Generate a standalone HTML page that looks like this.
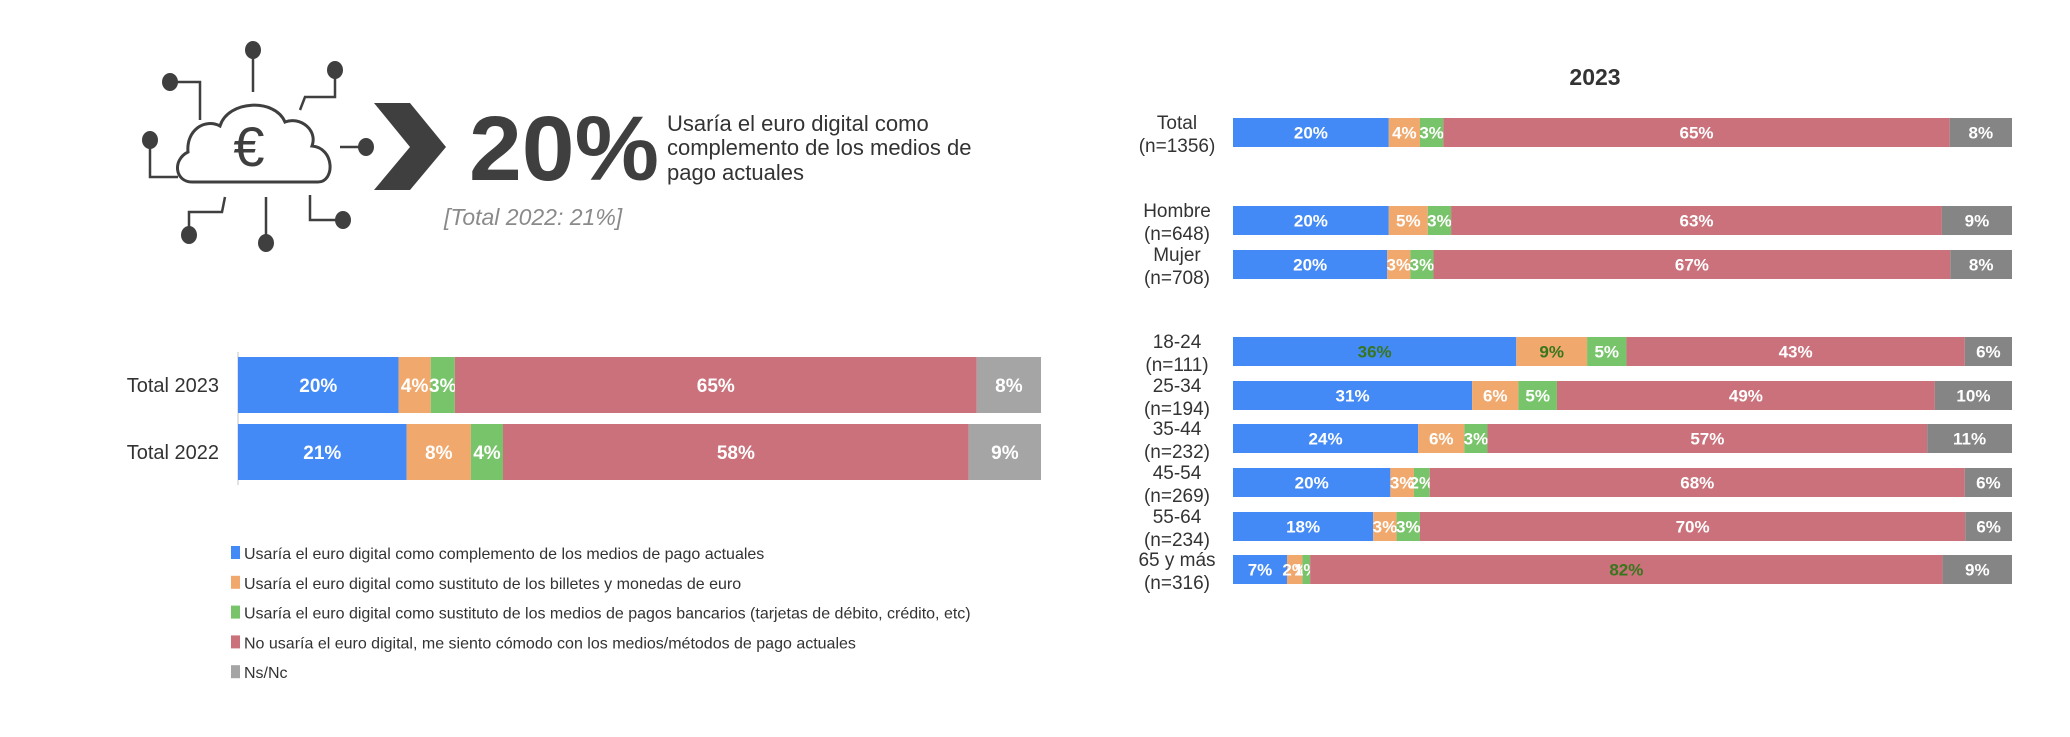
<!DOCTYPE html>
<html><head><meta charset="utf-8"><style>
body{margin:0;background:#fff;width:2070px;height:732px;overflow:hidden;font-family:"Liberation Sans",sans-serif}
svg text{font-family:"Liberation Sans",sans-serif}
</style></head><body>
<svg id="s" width="2070" height="732" viewBox="0 0 2070 732" xmlns="http://www.w3.org/2000/svg">
<g stroke="#3f3f3f" stroke-width="2.5" fill="none">
  <path d="M192,182 C175,182 172,160 188,152 C186,130 205,118 220,126 C228,100 275,98 285,122 C300,116 318,130 312,146 C335,148 335,182 318,182 Z" stroke-width="3"/>
  <line x1="253" y1="58" x2="253" y2="92"/>
  <polyline points="335,78 335,97 305,97 300,110"/>
  <polyline points="170,82 200,82 200,120"/>
  <polyline points="150,140 150,177 178,177"/>
  <line x1="340" y1="147" x2="360" y2="147"/>
  <polyline points="189,230 189,212 222,212 225,197"/>
  <line x1="266" y1="238" x2="266" y2="197"/>
  <polyline points="336,220 310,220 310,195"/>
</g>
<g fill="#3f3f3f">
  <ellipse cx="253" cy="50" rx="8" ry="9"/><ellipse cx="335" cy="70" rx="8" ry="9"/>
  <ellipse cx="170" cy="82" rx="8" ry="9"/><ellipse cx="150" cy="140" rx="8" ry="9"/>
  <ellipse cx="366" cy="147" rx="8" ry="9"/><ellipse cx="189" cy="235" rx="8" ry="9"/>
  <ellipse cx="266" cy="243" rx="8" ry="9"/><ellipse cx="343" cy="220" rx="8" ry="9"/>
</g>
<text x="249" y="166" font-size="56" fill="#3f3f3f" text-anchor="middle">€</text>
<polygon points="374,103 410,103 446,147 410,190 374,190 410,147" fill="#3f3f3f"/>
<text x="469" y="180" font-size="92" font-weight="bold" fill="#3f3f3f" textLength="190" lengthAdjust="spacingAndGlyphs">20%</text>
<g font-size="22" fill="#333">
  <text x="667" y="131">Usaría el euro digital como</text>
  <text x="667" y="155">complemento de los medios de</text>
  <text x="667" y="180">pago actuales</text>
</g>
<text x="444" y="225" font-size="23" font-style="italic" fill="#8a8a8a">[Total 2022: 21%]</text>

<line x1="238" y1="352" x2="238" y2="485" stroke="#d9d9d9" stroke-width="1.5"/>
<text x="1595" y="85" font-size="23" font-weight="bold" fill="#333" text-anchor="middle">2023</text>
<g id="left"></g>
<g id="right"></g>
<g id="legend"></g>
</svg>
<script>
const colors=["#448AF7","#F1A86D","#78C46A","#CA717B","#A5A5A5"];
const legendLabels=["Usaría el euro digital como complemento de los medios de pago actuales","Usaría el euro digital como sustituto de los billetes y monedas de euro","Usaría el euro digital como sustituto de los medios de pagos bancarios (tarjetas de débito, crédito, etc)","No usaría el euro digital, me siento cómodo con los medios/métodos de pago actuales","Ns/Nc"];
const leftCats=["Total 2023","Total 2022"];
const leftVals=[[20,4,3,65,8],[21,8,4,58,9]];
const rightCats=[["Total","(n=1356)"],["Hombre","(n=648)"],["Mujer","(n=708)"],["18-24","(n=111)"],["25-34","(n=194)"],["35-44","(n=232)"],["45-54","(n=269)"],["55-64","(n=234)"],["65 y más","(n=316)"]];
const rightVals=[[20,4,3,65,8],[20,5,3,63,9],[20,3,3,67,8],[36,9,5,43,6],[31,6,5,49,10],[24,6,3,57,11],[20,3,2,68,6],[18,3,3,70,6],[7,2,1,82,9]];
const darkLabels=[[],[],[],[0,1],[],[],[],[],[3]];
const NS="http://www.w3.org/2000/svg";
function mk(t,a,p){const e=document.createElementNS(NS,t);for(const k in a)e.setAttribute(k,a[k]);p.appendChild(e);return e;}
function drawBar(g,vals,x0,x1,y,h,fs,grayCol,dark){
  const tot=vals.reduce((a,b)=>a+b,0);const sc=v=>(x1-x0)*v/tot;
  let x=x0;
  vals.forEach((v,i)=>{
    const w=sc(v);
    const r=mk('rect',{x:x,y:y,width:w,height:h,fill:i==4?grayCol:colors[i]},g);
    
    
    const t=mk('text',{x:x+w/2,y:y+h/2+fs*0.36,'font-size':fs,'font-weight':'bold','text-anchor':'middle',fill:(dark||[]).includes(i)?'#38761D':'#fff'},g);
    t.textContent=v+'%';
    
    
    x+=w;
  });
}
const L=document.getElementById('left');
const leftTops=[357,424];
leftCats.forEach((c,i)=>{
  const t=mk('text',{x:219,y:leftTops[i]+35,'font-size':20,'text-anchor':'end',fill:'#333'},L);
  t.textContent=c;
  
  
  drawBar(L,leftVals[i],238,1041,leftTops[i],56,19,"#A5A5A5",[]);
});
const R=document.getElementById('right');
const rightTops=[118,206,250,337,381,424,468,512,555];
rightCats.forEach((c,i)=>{
  const yc=rightTops[i]+15;
  c.forEach((ln,j)=>{
    const t=mk('text',{x:1177,y:yc-4+j*23,'font-size':19,'text-anchor':'middle',fill:'#333'},R);
    t.textContent=ln;
    
    
  });
  drawBar(R,rightVals[i],1233,2012,rightTops[i],29,17,"#858585",darkLabels[i]);
});
const G=document.getElementById('legend');
legendLabels.forEach((l,i)=>{
  const y=553+i*29.8;
  const r=mk('rect',{x:231,y:y-7,width:9,height:13,fill:colors[i]},G);
  
  
  const t=mk('text',{x:244,y:y+6,'font-size':16,fill:'#333'},G);
  t.textContent=l;
  
  
});
</script>
</body></html>
